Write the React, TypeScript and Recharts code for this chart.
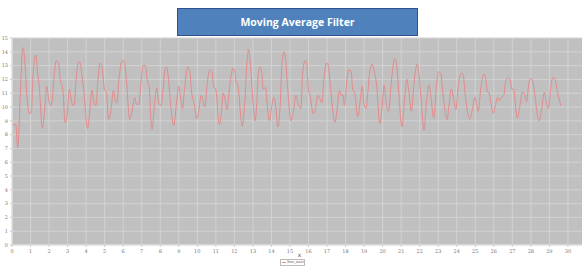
import React from "react";
import { LineChart, Line, XAxis, YAxis, CartesianGrid, Legend, Label } from "recharts";

const xValues = [
  0, 0.1, 0.2, 0.31, 0.45, 0.58, 0.66, 0.77, 0.88, 0.97, 1.06, 1.12, 1.28, 1.38, 1.47, 1.64, 1.75, 1.88, 1.97,
  2.09, 2.15, 2.26, 2.38, 2.51, 2.6, 2.74, 2.87, 2.96, 3.1, 3.2, 3.29, 3.36, 3.46, 3.59, 3.68, 3.77, 3.86,
  4.08, 4.19, 4.31, 4.4, 4.53, 4.64, 4.76, 4.85, 5.0, 5.09, 5.21, 5.34, 5.48, 5.57, 5.66, 5.77, 5.97, 6.06,
  6.17, 6.35, 6.48, 6.62, 6.71, 6.84, 6.97, 7.07, 7.2, 7.29, 7.41, 7.47, 7.56, 7.69, 7.8, 7.92, 8.05, 8.16,
  8.27, 8.34, 8.46, 8.55, 8.73, 8.87, 9.0, 9.09, 9.2, 9.31, 9.49, 9.6, 9.67, 9.85, 9.96, 10.08, 10.21, 10.31,
  10.4, 10.56, 10.68, 10.8, 10.88, 10.99, 11.19, 11.3, 11.4, 11.53, 11.6, 11.77, 11.93, 12.02, 12.1, 12.18,
  12.43, 12.55, 12.7, 12.76, 12.85, 12.98, 13.12, 13.21, 13.3, 13.39, 13.48, 13.55, 13.68, 13.77, 13.9, 14.0,
  14.15, 14.24, 14.35, 14.48, 14.57, 14.69, 14.78, 14.87, 15.05, 15.2, 15.32, 15.45, 15.59, 15.68, 15.81,
  15.9, 15.99, 16.1, 16.26, 16.37, 16.5, 16.62, 16.72, 16.85, 16.98, 17.07, 17.18, 17.43, 17.54, 17.67,
  17.76, 17.85, 17.94, 18.06, 18.17, 18.3, 18.39, 18.48, 18.66, 18.79, 18.9, 18.99, 19.11, 19.2, 19.3,
  19.44, 19.53, 19.66, 19.85, 19.98, 20.08, 20.2, 20.32, 20.47, 20.65, 20.74, 20.86, 21.04, 21.18, 21.31,
  21.4, 21.55, 21.7, 21.86, 21.95, 22.06, 22.24, 22.36, 22.5, 22.6, 22.76, 22.9, 23.03, 23.14, 23.23,
  23.48, 23.58, 23.71, 23.84, 23.95, 24.08, 24.26, 24.35, 24.44, 24.7, 24.83, 24.98, 25.07, 25.16, 25.3,
  25.46, 25.55, 25.66, 25.73, 25.97, 26.1, 26.2, 26.3, 26.42, 26.55, 26.64, 26.75, 26.88, 26.97, 27.06,
  27.27, 27.41, 27.54, 27.65, 27.77, 27.9, 27.99, 28.08, 28.19, 28.44, 28.58, 28.73, 28.82, 28.95, 29.08,
  29.2, 29.31, 29.44, 29.62,
];

const yValues = [
  8.8, 8.7, 8.75, 7.05, 11.0, 14.3, 13.8, 11.5, 9.8, 9.5, 9.8, 12.0, 13.77, 12.5, 11.5, 8.45, 9.6, 11.5, 10.6,
  10.1, 10.3, 12.0, 13.35, 13.2, 12.0, 11.3, 8.86, 9.2, 11.3, 10.5, 10.1, 10.2, 12.0, 13.3, 13.2, 12.3, 11.4,
  8.43, 9.6, 11.2, 10.5, 10.1, 12.0, 13.2, 13.0, 11.2, 11.1, 9.1, 9.8, 11.2, 10.5, 10.3, 12.0, 13.4, 13.2,
  12.0, 9.1, 9.7, 10.7, 10.2, 10.2, 11.9, 13.0, 13.0, 12.0, 11.4, 9.7, 8.4, 10.2, 11.4, 10.3, 10.1, 11.4,
  12.8, 12.9, 11.8, 10.3, 8.66, 10.2, 11.5, 10.8, 9.9, 11.3, 12.9, 12.6, 11.3, 10.1, 9.15, 9.7, 10.85, 10.4,
  10.0, 12.0, 12.7, 12.5, 11.5, 11.3, 8.73, 9.6, 11.0, 10.3, 9.8, 11.8, 12.8, 12.6, 11.8, 11.6,
  8.6, 10.1, 13.6, 14.15, 13.35, 10.8, 9.0, 10.3, 12.5, 12.9, 12.5, 11.3, 11.4, 10.2, 9.0, 9.95,
  10.7, 9.95, 8.55, 10.3, 13.2, 14.0, 13.2, 11.5, 9.0, 9.8, 10.85, 10.2, 9.9, 12.3, 13.35,
  13.2, 11.4, 10.7, 9.5, 9.8, 10.85, 10.6, 10.3, 12.3, 13.2, 13.0, 11.5, 8.9, 9.8, 11.2,
  10.85, 10.9, 10.1, 11.8, 12.7, 12.6, 11.2, 11.1, 9.3, 10.45, 11.5, 10.2, 9.9, 11.0, 12.5,
  13.1, 12.7, 11.8, 8.8, 10.1, 11.6, 10.2, 9.7, 11.8, 13.5, 13.2, 11.3, 8.55, 10.45, 12.0,
  11.3, 9.7, 11.8, 13.1, 12.5, 10.8, 8.33, 10.3, 11.6, 10.8, 9.2, 11.5, 12.55, 12.4, 11.3,
  9.1, 10.1, 11.3, 10.55, 9.8, 11.5, 12.45, 12.35, 11.1, 9.15, 9.7, 10.7, 10.2, 9.7, 11.4,
  12.4, 12.15, 11.1, 11.05, 9.55, 10.2, 10.7, 10.45, 10.7, 10.9, 11.9, 12.1, 12.0, 11.3, 11.3,
  9.2, 10.1, 11.1, 10.95, 10.4, 11.8, 12.05, 12.0, 11.1, 9.0, 9.8, 11.05, 10.45, 9.9, 11.5,
  12.15, 12.0, 11.1, 10.1,
];

const xTicks = Array.from({ length: 31 }, (_, i) => i);
const yTicks = Array.from({ length: 16 }, (_, i) => i);
const xDomain = [0, 30.76];
const seriesName = "Sine_wave";
const titleText = "Moving Average Filter";
const xLabel = "x";

const data = xValues.map((x, i) => ({ x, y: yValues[i] }));

const LegendContent = () => (
  <div
    style={{
      width: 25,
      height: 7,
      boxSizing: "border-box",
      border: "1px solid #bbbbbb",
      background: "#ffffff",
      display: "flex",
      alignItems: "center",
      marginLeft: 280,
      fontFamily: "Liberation Sans, Arial, sans-serif",
      fontSize: 3.5,
      color: "#666",
      lineHeight: 1,
    }}
  >
    <span style={{ display: "inline-block", width: 5, height: 0, borderTop: "1px solid #e38b8b", margin: "0 1px 0 1px" }} />
    <span>{seriesName}</span>
  </div>
);

const XLabelContent = (props: any) => {
  const vb = props.viewBox || { x: 0, y: 0, width: 0, height: 0 };
  const cx = vb.x + vb.width / 2 + 2.5;
  return (
    <text x={cx} y={vb.y + 11.5} textAnchor="middle" fontSize={6} fill="#555" fontFamily="DejaVu Sans, sans-serif">
      {xLabel}
    </text>
  );
};

export default function App() {
  return (
    <div style={{ position: "absolute", left: 0, top: 0, width: 582, height: 268, background: "#fff", overflow: "hidden" }}>
      <LineChart
        width={582}
        height={268}
        data={data}
        margin={{ top: 38, right: 0, bottom: 0, left: 0 }}
      >
        <CartesianGrid
          stroke="#d2d2d2"
          strokeWidth={1}
          fill="#c0c0c0"
          fillOpacity={1}
          verticalValues={xTicks}
          horizontalValues={yTicks}
        />
        <XAxis
          dataKey="x"
          type="number"
          domain={xDomain}
          ticks={xTicks}
          allowDataOverflow
          height={14}
          tick={{ fontSize: 5, fill: "#777", fontFamily: "DejaVu Serif, serif" }}
          tickLine={{ stroke: "#cccccc" }}
          tickSize={2}
          axisLine={{ stroke: "#e4e4e4" }}
          interval={0}
        >
          <Label content={XLabelContent} />
        </XAxis>
        <YAxis
          type="number"
          domain={[0, 15]}
          ticks={yTicks}
          width={12}
          tick={{ fontSize: 5, fill: "#777", fontFamily: "DejaVu Serif, serif" }}
          tickLine={{ stroke: "#cccccc" }}
          tickSize={2}
          axisLine={{ stroke: "#e4e4e4" }}
          interval={0}
        />
        <Legend verticalAlign="bottom" align="left" height={9} content={LegendContent} />
        <Line
          type="monotone"
          dataKey="y"
          name={seriesName}
          stroke="#e38b8b"
          strokeWidth={1}
          dot={false}
          isAnimationActive={false}
        />
      </LineChart>
      <div
        style={{
          position: "absolute",
          left: 177,
          top: 8,
          width: 241,
          height: 28,
          boxSizing: "border-box",
          background: "#4f81bd",
          border: "1px solid #2f528f",
          color: "#ffffff",
          fontFamily: "Open Sans, Liberation Sans, sans-serif",
          fontWeight: 700,
          fontSize: 10.5,
          display: "flex",
          alignItems: "center",
          justifyContent: "center",
        }}
      >
        {titleText}
      </div>
    </div>
  );
}
